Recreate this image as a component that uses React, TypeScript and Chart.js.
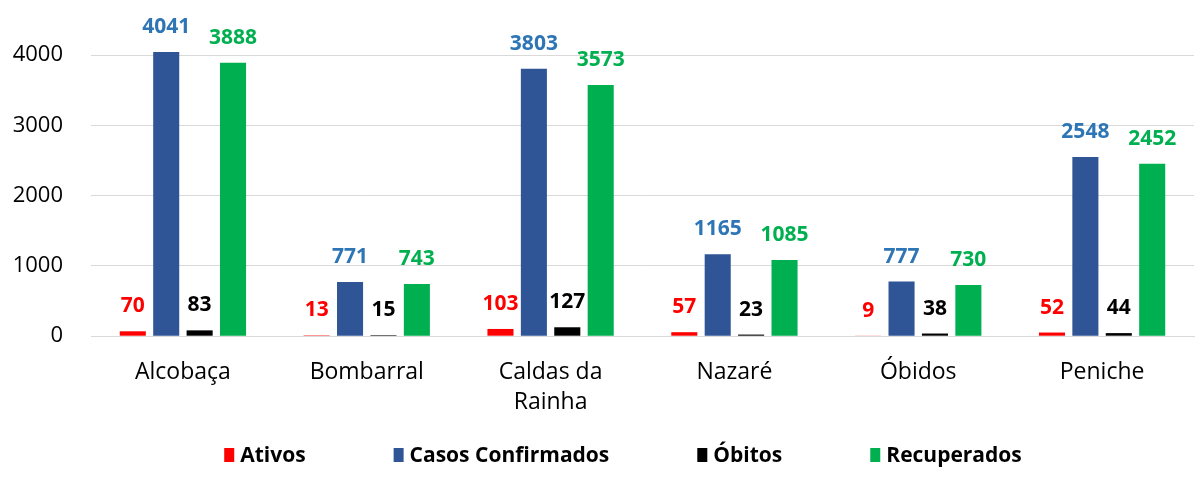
import React, { useEffect, useRef } from 'react';
import { Chart, registerables } from 'chart.js';

Chart.register(...registerables);

const categories: (string | string[])[] = ['Alcobaça', 'Bombarral', ['Caldas da', 'Rainha'], 'Nazaré', 'Óbidos', 'Peniche'];
const seriesNames = ['Ativos', 'Casos Confirmados', 'Óbitos', 'Recuperados'];
const ativos = [70, 13, 103, 57, 9, 52];
const casosConfirmados = [4041, 771, 3803, 1165, 777, 2548];
const obitos = [83, 15, 127, 23, 38, 44];
const recuperados = [3888, 743, 3573, 1085, 730, 2452];
const yTicks = [0, 1000, 2000, 3000, 4000];

const barColors = ['#ff0000', '#2f5597', '#000000', '#00b050'];
const labelColors = ['#ff0000', '#2e75b6', '#000000', '#00b050'];

const FONT = "'Open Sans', 'DejaVu Sans', sans-serif";

const valueLabels = {
  id: 'valueLabels',
  afterDatasetsDraw(chart: any) {
    const ctx = chart.ctx;
    ctx.save();
    ctx.font = `bold 21px ${FONT}`;
    ctx.textAlign = 'center';
    ctx.textBaseline = 'middle';
    chart.data.datasets.forEach((ds: any, i: number) => {
      const meta = chart.getDatasetMeta(i);
      ctx.fillStyle = labelColors[i];
      meta.data.forEach((bar: any, j: number) => {
        ctx.fillText(String(ds.data[j]), bar.x, bar.y - 25);
      });
    });
    ctx.restore();
  },
};

const customLegend = {
  id: 'customLegend',
  afterDraw(chart: any) {
    const ctx = chart.ctx;
    ctx.save();
    ctx.font = `bold 21px ${FONT}`;
    ctx.textBaseline = 'middle';
    ctx.textAlign = 'left';
    const boxW = 10;
    const boxH = 14;
    const gapBoxText = 6;
    const gapItems = 88;
    const widths = seriesNames.map((n) => boxW + gapBoxText + ctx.measureText(n).width);
    const total = widths.reduce((a, b) => a + b, 0) + gapItems * (seriesNames.length - 1);
    let x = chart.width / 2 + 23 - total / 2;
    const y = 455;
    seriesNames.forEach((n, i) => {
      ctx.fillStyle = barColors[i];
      ctx.fillRect(x, y - boxH / 2, boxW, boxH);
      ctx.fillStyle = '#000000';
      ctx.fillText(n, x + boxW + gapBoxText, y + 1);
      x += widths[i] + gapItems;
    });
    ctx.restore();
  },
};

export default function App() {
  const ref = useRef<HTMLCanvasElement | null>(null);

  useEffect(() => {
    document.body.style.margin = '0';
    if (!ref.current) return;
    const seriesData = [ativos, casosConfirmados, obitos, recuperados];
    const chart = new Chart(ref.current, {
      type: 'bar',
      data: {
        labels: categories as any,
        datasets: seriesNames.map((name, i) => ({
          label: name,
          data: seriesData[i],
          backgroundColor: barColors[i],
          borderWidth: 0,
          categoryPercentage: 0.727,
          barPercentage: 0.78,
          clip: false as any,
        })),
      },
      options: {
        responsive: false,
        animation: false,
        maintainAspectRatio: false,
        layout: { padding: { top: 55, left: 11, right: 6, bottom: 53 } },
        plugins: {
          legend: { display: false },
          tooltip: { enabled: false },
          title: { display: false },
        },
        scales: {
          x: {
            grid: { display: false, drawTicks: false },
            border: { display: true, color: '#d9d9d9', width: 1 },
            ticks: {
              color: '#000000',
              padding: 21,
              font: { family: FONT, size: 23, lineHeight: 1.3 },
              maxRotation: 0,
              autoSkip: false,
            },
          },
          y: {
            min: 0,
            max: 4000,
            afterBuildTicks: (scale: any) => {
              scale.ticks = yTicks.map((v) => ({ value: v }));
            },
            afterFit: (scale: any) => {
              scale.width = 80;
            },
            grid: { color: '#d9d9d9', drawTicks: false, lineWidth: 1 },
            border: { display: false },
            ticks: {
              color: '#000000',
              padding: 28,
              font: { family: FONT, size: 22 },
              callback: (v: any) => String(v),
            },
          },
        },
      },
      plugins: [valueLabels, customLegend],
    });
    return () => chart.destroy();
  }, []);

  return (
    <div style={{ width: 1200, height: 491, background: '#ffffff' }}>
      <canvas ref={ref} width={1200} height={491} style={{ display: 'block', width: 1200, height: 491 }} />
    </div>
  );
}
